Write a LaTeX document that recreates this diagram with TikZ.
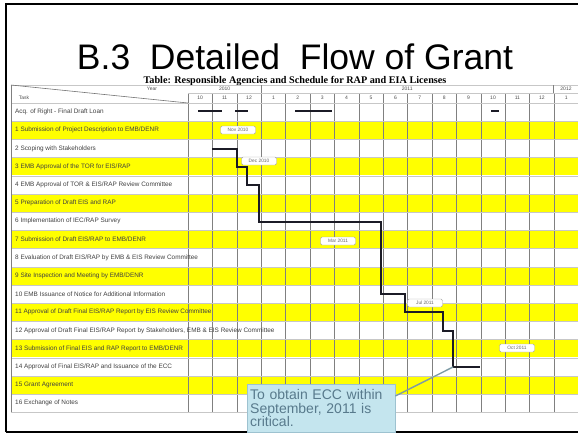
\documentclass[tikz,border=0pt]{standalone}
\usepackage{fontspec}
\setmainfont{Liberation Sans}
\newfontfamily\tabserif{Liberation Serif}
\usepackage{tikz}
\usetikzlibrary{positioning,calc,backgrounds}
\definecolor{rowyellow}{HTML}{FFFF00}
\definecolor{planink}{HTML}{1B1B26}
\definecolor{notefill}{HTML}{C4E5EE}
\definecolor{noteline}{HTML}{9DC2D0}
\definecolor{notetext}{HTML}{587A8C}

\begin{document}
\begin{tikzpicture}[x=1pt,y=-1pt,
task/.style={anchor=west,inner sep=0pt,font=\fontsize{6.4}{7}\selectfont,text=black!75},
hdr/.style={inner sep=0pt,font=\fontsize{5}{6}\selectfont,text=black!70},
gridline/.style={draw=black!50,line width=0.6pt},
rowsep/.style={draw=black!22,line width=0.6pt},
plan/.style={draw=planink,line width=2.3pt},
datebox/.style={draw=black!35,fill=white,rounded corners=1.5pt,inner sep=1pt,
font=\fontsize{4.8}{5}\selectfont,text=black!60,minimum width=35pt,minimum height=8pt},
note/.style={fill=notefill,draw=noteline,anchor=north west,align=left,
text width=142pt,inner xsep=3pt,inner ysep=5pt,text=notetext,
font=\fontsize{14}{13.8}\selectfont},
ptr/.style={draw=noteline!80!black,line width=1.4pt}
]
\useasboundingbox (0,0) rectangle (578,434);
\clip (0,0) rectangle (578,434);

\node[font=\fontsize{35.5}{40}\selectfont,anchor=base,inner sep=0pt] (title) at (295,69)
{B.3\ \ Detailed\ \ Flow of Grant};
\node[font=\tabserif\bfseries\fontsize{10.2}{11}\selectfont,anchor=base,inner sep=0pt] (caption)
at (295,83.5) {Table: Responsible Agencies and Schedule for RAP and EIA Licenses};

\foreach \lbl [count=\i] in {
{Acq. of Right - Final Draft Loan},
{1 Submission of Project Description to EMB/DENR},
{2 Scoping with Stakeholders},
{3 EMB Approval of the TOR for EIS/RAP},
{4 EMB Approval of TOR \& EIS/RAP Review Committee},
{5 Preparation of Draft EIS and RAP},
{6 Implementation of IEC/RAP Survey},
{7 Submission of Draft EIS/RAP to EMB/DENR},
{8 Evaluation of Draft EIS/RAP by EMB \& EIS Review Committee},
{9 Site Inspection and Meeting by EMB/DENR},
{10 EMB Issuance of Notice for Additional Information},
{11 Approval of Draft Final EIS/RAP Report by EIS Review Committee},
{12 Approval of Draft Final EIS/RAP Report by Stakeholders, EMB \& EIS Review Committee},
{13 Submission of Final EIS and RAP Report to EMB/DENR},
{14 Approval of Final EIS/RAP and Issuance of the ECC},
{15 Grant Agreement},
{16 Exchange of Notes}}{
\pgfmathsetmacro\rtop{103+18.2*(\i-1)}
\ifodd\i\else
\scoped[on background layer] \fill[rowyellow] (11,\rtop+0.5) rectangle (578,\rtop+17.7);
\fi
\node[task] (t\i) at (15,\rtop+9.1) {\lbl};
}

\begin{scope}[on background layer]
\foreach \k in {0,...,16}
\draw[gridline] (188+24.4*\k,93) -- (188+24.4*\k,412.4);
\foreach \i in {0,...,17}
\draw[rowsep] (11,103+18.2*\i) -- (578,103+18.2*\i);
\end{scope}

\draw[rowsep] (11,85) -- (578,85) (188,93) -- (578,93);
\draw[draw=black!55,line width=0.6pt] (11,85) -- (188,103);
\draw[gridline] (11,85) -- (11,412.4) (261.2,85) -- (261.2,93) (553.6,85) -- (553.6,93);
\node[hdr] (year) at (152,89) {Year};
\node[hdr] (task) at (24,98) {Task};
\foreach \yr/\x in {2010/224.6,2011/407.2,2012/566}
\node[hdr] (y\yr) at (\x,89) {\yr};
\foreach \m [count=\k] in {10,11,12,1,2,3,4,5,6,7,8,9,10,11,12,1}
\node[hdr] (m\k) at (175.8+24.4*\k,98) {\m};

\foreach \a/\b in {198/222,235/248,295/332,491/499}
\draw[plan] (\a,111) -- (\b,111);
\coordinate (ecc) at (453,367);
\draw[plan] (212,149) -| (237,167) -| (247,185) -| (259,222) -| (381,294)
-| (405,312) -| (443,331) -| (ecc) -- (480,367);

\foreach \x/\y/\d [count=\n] in {238/130/Nov 2010,259/161/Dec 2010,338/241/Mar 2011,
425/303/Jul 2011,517/348/Oct 2011}
\node[datebox] (d\n) at (\x,\y) {\d};

\draw[line width=2.5pt] (6,432) -- (6,4) -- (590,4);
\draw[line width=2pt] (6,432) -- (590,432);

\node[note] (note) at (247,384) {To obtain ECC within\\September, 2011 is\\critical.};
\draw[ptr] ([yshift=-12pt]note.north east) -- (ecc);
\end{tikzpicture}
\end{document}
